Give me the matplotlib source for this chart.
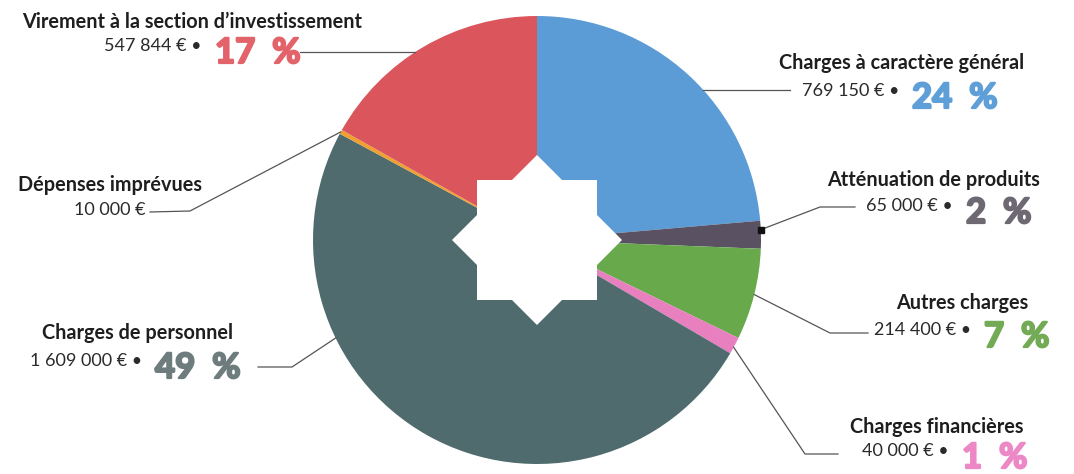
import numpy as np
import matplotlib
matplotlib.use("Agg")
import matplotlib.pyplot as plt
import matplotlib.patheffects as pe
from matplotlib.patches import RegularPolygon

plt.rcParams['font.family'] = ['Lato', 'DejaVu Sans']

# data
categories = ["Charges à caractère général", "Atténuation de produits", "Autres charges",
              "Charges financières", "Charges de personnel", "Dépenses imprévues",
              "Virement à la section d’investissement"]
amounts = [769150, 65000, 214400, 40000, 1609000, 10000, 547844]
amount_labels = ["769 150 €", "65 000 €", "214 400 €", "40 000 €", "1 609 000 €", "10 000 €", "547 844 €"]
pct_labels = ["24  %", "2  %", "7  %", "1  %", "49  %", None, "17  %"]
slice_colors = ["#5b9bd6", "#5a5262", "#68a94c", "#e880bf", "#4f6b6e", "#f0a030", "#da565c"]
pct_colors = ["#5e9fd8", "#6e6873", "#72aa55", "#ec88c6", "#6e7c7e", None, "#e2636a"]

W, H = 1074, 474
fig = plt.figure(figsize=(W / 100, H / 100), dpi=100)
ax = fig.add_axes([0, 0, 1, 1])

def Y(y):
    return H - y

cx, cy, R = 537, 240, 224
wedges, _ = ax.pie(amounts, colors=slice_colors, startangle=90, counterclock=False,
                   center=(cx, Y(cy)), radius=R, wedgeprops=dict(linewidth=0))

# white star in the middle
for ori in (0, np.pi / 4):
    ax.add_patch(RegularPolygon((cx, Y(cy)), 4, radius=85, orientation=ori,
                                facecolor="white", edgecolor="none", zorder=5))

# layout: label centre x, label top y, split x, value top y, where on the wedge, line path
layout = [
    dict(lx=902, ly=53, sx=904, vy=83, t=0.565, path=[(790, 90)]),
    dict(lx=934, ly=170, sx=958, vy=198, t=0.32, path=[(820, 207), (855, 207)]),
    dict(lx=962, ly=293, sx=976, vy=322, t=0.5, path=[(830, 333), (868, 333)]),
    dict(lx=937, ly=417, sx=954, vy=443, t=0.6, path=[(805, 454), (838, 454)]),
    dict(lx=137, ly=323, sx=147, vy=353, t=0.695, path=[(292, 367), (258, 367)]),
    dict(lx=110, ly=175, sx=None, vy=202, t=0.5, path=[(190, 211), (150, 212)]),
    dict(lx=192, ly=12, sx=207, vy=38, t=0.455, path=[(300, 52)]),
]

for i, w in enumerate(wedges):
    L = layout[i]
    # anchor point on the pie edge, measured clockwise from the wedge start
    ang = np.deg2rad(w.theta2 - L['t'] * (w.theta2 - w.theta1))
    ax_, ay_ = cx + R * np.cos(ang), Y(cy) + R * np.sin(ang)
    xs = [ax_] + [p[0] for p in L['path']]
    ys = [ay_] + [Y(p[1]) for p in L['path']]
    if len(L['path']) == 1:
        ys[0] = ys[1]
        xs[0] = cx + np.sign(np.cos(ang)) * np.sqrt(R**2 - (ys[1] - Y(cy))**2)
    ax.plot(xs, ys, color="#555555", lw=0.9, zorder=6)
    if i == 1:
        ax.plot(xs[0], ys[0], marker='s', ms=4, color="#111111", zorder=7)

    ax.text(L['lx'], Y(L['ly']), categories[i], ha='center', va='top',
            fontsize=14.3, fontweight='bold', color="#1e1e1e")
    if pct_labels[i] is None:
        ax.text(L['lx'], Y(L['vy']), amount_labels[i], ha='center', va='top',
                fontsize=13, color="#2a2a2a")
    else:
        ax.text(L['sx'] - 5, Y(L['vy']), amount_labels[i] + " •", ha='right', va='top',
                fontsize=13, color="#2a2a2a")
        ax.text(L['sx'] + 8, Y(L['vy']) + 1, pct_labels[i], ha='left', va='top',
                fontsize=25, fontweight='bold', color=pct_colors[i],
                path_effects=[pe.withStroke(linewidth=1.6, foreground=pct_colors[i])])

ax.set_xlim(0, W)
ax.set_ylim(0, H)
ax.axis('off')
fig.savefig("out.png", dpi=100, facecolor="white")
